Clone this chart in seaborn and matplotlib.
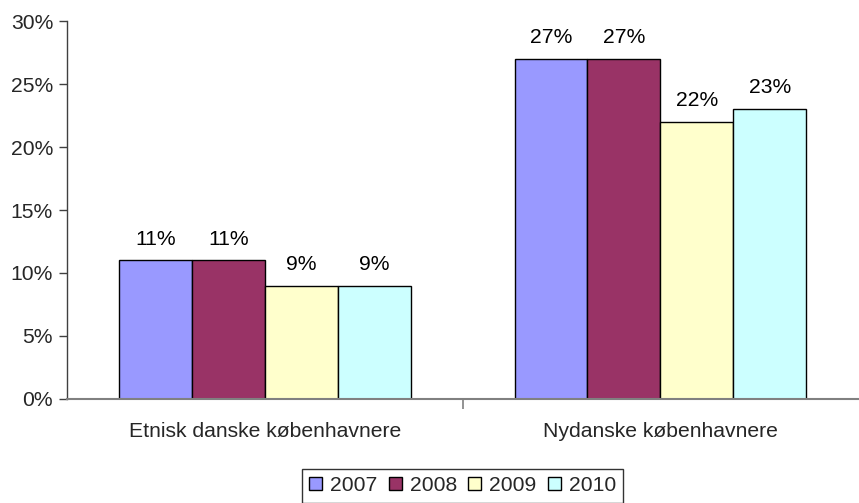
import pandas as pd
import matplotlib.pyplot as plt
import seaborn as sns
from matplotlib.ticker import FixedLocator, FuncFormatter

# Data (percent)
categories = ["Etnisk danske københavnere", "Nydanske københavnere"]
years = ["2007", "2008", "2009", "2010"]
values_2007 = [11, 27]
values_2008 = [11, 27]
values_2009 = [9, 22]
values_2010 = [9, 23]

colors = ["#9999FF", "#993366", "#FFFFCC", "#CCFFFF"]

rows = []
for year, vals in zip(years, [values_2007, values_2008, values_2009, values_2010]):
    for cat, v in zip(categories, vals):
        rows.append({"Gruppe": cat, "År": year, "Andel": v})
df = pd.DataFrame(rows)

sns.set_theme(style="white")
plt.rcParams['font.family'] = ['Liberation Sans', 'DejaVu Sans']
FS = 15.2

fig = plt.figure(figsize=(8.59, 5.03), dpi=100)
ax = fig.add_axes([0.078, 0.207, 0.921, 0.751])

sns.barplot(data=df, x="Gruppe", y="Andel", hue="År", palette=colors,
            width=0.737, gap=0, edgecolor="black", linewidth=1,
            saturation=1, ax=ax)

for cont in ax.containers:
    ax.bar_label(cont, fmt="%.0f%%", padding=8.5, fontsize=FS, color="black")

ax.set_xlim(-0.5, 1.5)
ax.set_ylim(0, 30)
ax.set_yticks(range(0, 31, 5))
ax.yaxis.set_major_formatter(FuncFormatter(lambda v, p: f"{v:.0f}%"))
ax.tick_params(axis="y", which="major", direction="out", length=6, width=1,
               color="#404040", labelsize=FS, pad=4, left=True)
ax.tick_params(axis="x", which="major", length=0, labelsize=FS, pad=17)
ax.xaxis.set_minor_locator(FixedLocator([0.5]))
ax.tick_params(axis="x", which="minor", direction="out", length=7, width=1.2,
               color="#808080", bottom=True)
ax.set_xlabel("")
ax.set_ylabel("")

for s in ["top", "right"]:
    ax.spines[s].set_visible(False)
ax.spines["left"].set_color("#404040")
ax.spines["left"].set_linewidth(1)
ax.spines["bottom"].set_color("#808080")
ax.spines["bottom"].set_linewidth(1.5)

leg = ax.legend(loc="upper center", bbox_to_anchor=(0.5, -0.185), ncol=4,
                frameon=True, fancybox=False, fontsize=FS, handlelength=0.6,
                handleheight=0.6, handletextpad=0.38, columnspacing=0.55,
                borderpad=0.35, borderaxespad=0)
leg.get_frame().set_edgecolor("black")
leg.get_frame().set_linewidth(1)

fig.savefig("out.png", dpi=100)
